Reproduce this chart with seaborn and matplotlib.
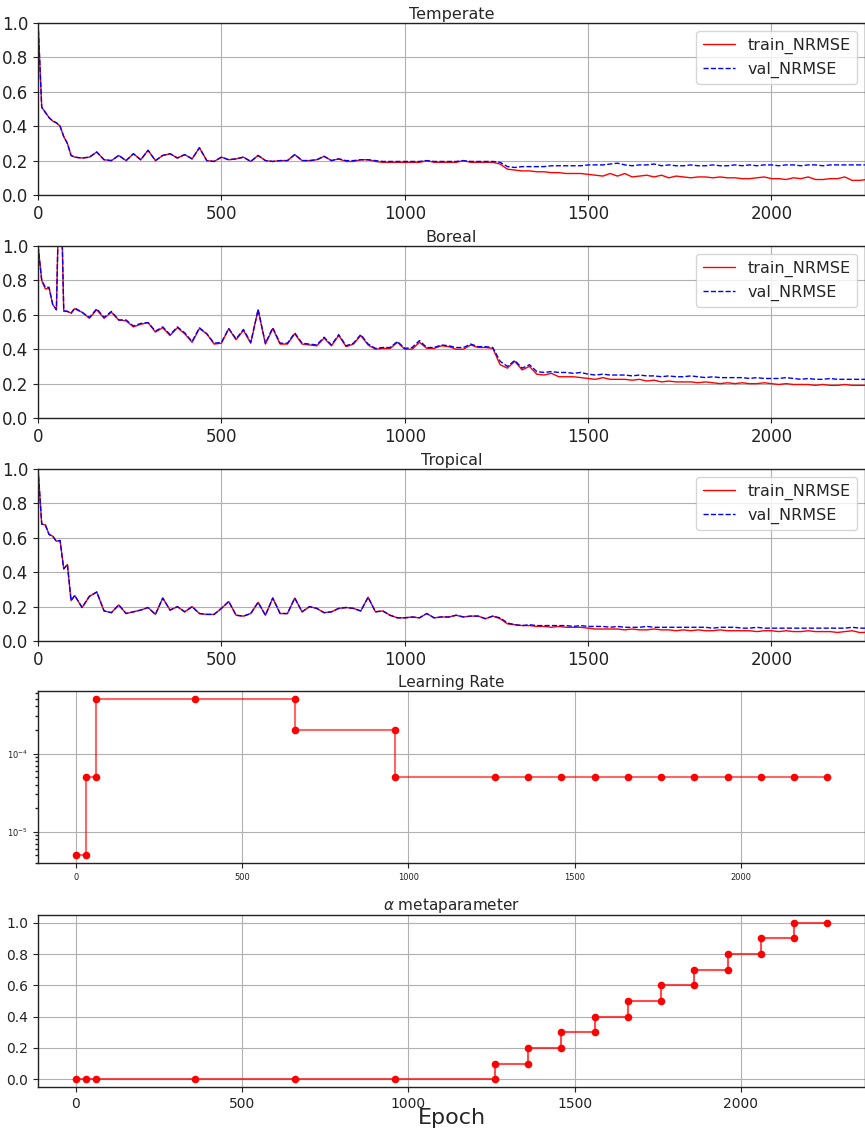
import matplotlib
matplotlib.use("Agg")
import matplotlib.pyplot as plt
import seaborn as sns

# epochs logged: every 10 for the first 100, then every 20
epochs = list(range(0, 100, 10)) + list(range(100, 2261, 20))

tmp_train = [
    1.00, 0.51, 0.48, 0.45, 0.43, 0.42, 0.40, 0.34, 0.30, 0.23,
    0.22, 0.215, 0.22, 0.25, 0.205, 0.20, 0.23, 0.20, 0.24, 0.205,
    0.26, 0.20, 0.23, 0.24, 0.215, 0.235, 0.21, 0.275, 0.20, 0.195,
    0.22, 0.205, 0.21, 0.22, 0.195, 0.23, 0.20, 0.195, 0.20, 0.20,
    0.235, 0.20, 0.20, 0.205, 0.225, 0.20, 0.21, 0.195, 0.195, 0.205,
    0.205, 0.195, 0.19, 0.19, 0.19, 0.19, 0.19, 0.19, 0.20, 0.19,
    0.19, 0.19, 0.19, 0.20, 0.19, 0.19, 0.19, 0.19, 0.18, 0.15,
    0.145, 0.14, 0.14, 0.135, 0.135, 0.13, 0.13, 0.125, 0.125, 0.125,
    0.12, 0.115, 0.11, 0.125, 0.11, 0.125, 0.105, 0.11, 0.115, 0.105,
    0.115, 0.10, 0.11, 0.105, 0.10, 0.105, 0.105, 0.10, 0.105, 0.10,
    0.10, 0.095, 0.095, 0.10, 0.105, 0.095, 0.095, 0.09, 0.10, 0.095,
    0.105, 0.09, 0.09, 0.095, 0.095, 0.105, 0.085, 0.085, 0.09,
]
tmp_val = [
    1.00, 0.51, 0.48, 0.45, 0.43, 0.42, 0.40, 0.34, 0.30, 0.23,
    0.22, 0.215, 0.22, 0.25, 0.205, 0.20, 0.23, 0.20, 0.24, 0.205,
    0.26, 0.20, 0.23, 0.24, 0.215, 0.235, 0.21, 0.275, 0.20, 0.195,
    0.22, 0.205, 0.21, 0.22, 0.195, 0.23, 0.20, 0.195, 0.20, 0.20,
    0.235, 0.20, 0.20, 0.205, 0.225, 0.20, 0.21, 0.20, 0.20, 0.205,
    0.205, 0.20, 0.195, 0.195, 0.195, 0.195, 0.195, 0.195, 0.20, 0.195,
    0.195, 0.195, 0.195, 0.20, 0.195, 0.195, 0.195, 0.195, 0.19, 0.165,
    0.16, 0.165, 0.165, 0.165, 0.165, 0.17, 0.17, 0.17, 0.17, 0.17,
    0.175, 0.175, 0.175, 0.18, 0.185, 0.175, 0.17, 0.175, 0.175, 0.18,
    0.17, 0.175, 0.17, 0.17, 0.175, 0.17, 0.17, 0.175, 0.17, 0.17,
    0.175, 0.17, 0.175, 0.17, 0.175, 0.175, 0.17, 0.175, 0.175, 0.17,
    0.175, 0.175, 0.17, 0.175, 0.175, 0.175, 0.175, 0.175, 0.175,
]

bor_train = [
    1.00, 0.80, 0.75, 0.755, 0.66, 0.63, 1.60, 0.62, 0.62, 0.61,
    0.635, 0.615, 0.58, 0.63, 0.58, 0.615, 0.57, 0.565, 0.53, 0.545,
    0.555, 0.50, 0.525, 0.48, 0.525, 0.49, 0.44, 0.52, 0.49, 0.43,
    0.435, 0.52, 0.455, 0.51, 0.435, 0.63, 0.43, 0.52, 0.43, 0.43,
    0.49, 0.43, 0.425, 0.42, 0.465, 0.42, 0.48, 0.415, 0.43, 0.48,
    0.425, 0.40, 0.405, 0.405, 0.44, 0.40, 0.40, 0.44, 0.405, 0.405,
    0.42, 0.415, 0.40, 0.40, 0.425, 0.41, 0.41, 0.405, 0.31, 0.29,
    0.33, 0.28, 0.30, 0.255, 0.25, 0.26, 0.24, 0.24, 0.24, 0.235,
    0.23, 0.225, 0.235, 0.225, 0.225, 0.225, 0.22, 0.225, 0.215, 0.22,
    0.21, 0.215, 0.21, 0.21, 0.21, 0.205, 0.21, 0.205, 0.20, 0.205,
    0.20, 0.205, 0.20, 0.20, 0.205, 0.20, 0.195, 0.20, 0.195, 0.195,
    0.195, 0.19, 0.195, 0.19, 0.19, 0.195, 0.19, 0.19, 0.19,
]
bor_val = [
    1.00, 0.80, 0.76, 0.76, 0.66, 0.63, 1.60, 0.625, 0.62, 0.61,
    0.64, 0.615, 0.585, 0.635, 0.585, 0.62, 0.57, 0.57, 0.535, 0.55,
    0.555, 0.505, 0.53, 0.485, 0.53, 0.495, 0.445, 0.525, 0.49, 0.435,
    0.44, 0.52, 0.46, 0.515, 0.44, 0.63, 0.435, 0.525, 0.435, 0.435,
    0.495, 0.435, 0.43, 0.425, 0.47, 0.425, 0.485, 0.42, 0.435, 0.485,
    0.43, 0.405, 0.41, 0.41, 0.445, 0.405, 0.41, 0.45, 0.41, 0.41,
    0.425, 0.42, 0.41, 0.41, 0.43, 0.415, 0.415, 0.41, 0.33, 0.30,
    0.335, 0.29, 0.31, 0.27, 0.265, 0.27, 0.265, 0.265, 0.26, 0.265,
    0.255, 0.25, 0.255, 0.25, 0.25, 0.25, 0.245, 0.25, 0.245, 0.245,
    0.24, 0.245, 0.24, 0.24, 0.245, 0.24, 0.235, 0.24, 0.235, 0.235,
    0.235, 0.235, 0.23, 0.235, 0.23, 0.23, 0.23, 0.235, 0.23, 0.225,
    0.23, 0.225, 0.225, 0.23, 0.225, 0.225, 0.225, 0.225, 0.225,
]

tro_train = [
    1.00, 0.68, 0.675, 0.62, 0.61, 0.58, 0.585, 0.42, 0.445, 0.235,
    0.265, 0.195, 0.26, 0.285, 0.175, 0.165, 0.21, 0.16, 0.17, 0.18,
    0.195, 0.155, 0.25, 0.18, 0.20, 0.17, 0.20, 0.16, 0.155, 0.155,
    0.19, 0.23, 0.15, 0.145, 0.16, 0.225, 0.15, 0.25, 0.16, 0.16,
    0.25, 0.17, 0.20, 0.19, 0.165, 0.17, 0.19, 0.195, 0.19, 0.175,
    0.255, 0.17, 0.175, 0.15, 0.135, 0.135, 0.14, 0.135, 0.16, 0.135,
    0.14, 0.14, 0.15, 0.14, 0.145, 0.145, 0.13, 0.145, 0.13, 0.10,
    0.095, 0.09, 0.09, 0.085, 0.085, 0.08, 0.085, 0.08, 0.08, 0.08,
    0.075, 0.07, 0.07, 0.07, 0.07, 0.065, 0.07, 0.065, 0.065, 0.07,
    0.065, 0.065, 0.06, 0.065, 0.06, 0.065, 0.06, 0.06, 0.065, 0.06,
    0.06, 0.06, 0.06, 0.055, 0.06, 0.06, 0.055, 0.06, 0.055, 0.055,
    0.06, 0.055, 0.055, 0.055, 0.05, 0.055, 0.06, 0.05, 0.05,
]
tro_val = [
    1.00, 0.68, 0.675, 0.62, 0.61, 0.58, 0.585, 0.42, 0.445, 0.235,
    0.265, 0.195, 0.26, 0.285, 0.175, 0.165, 0.21, 0.16, 0.17, 0.18,
    0.195, 0.155, 0.25, 0.18, 0.20, 0.17, 0.20, 0.16, 0.155, 0.155,
    0.19, 0.23, 0.15, 0.145, 0.16, 0.225, 0.15, 0.25, 0.16, 0.16,
    0.25, 0.17, 0.20, 0.19, 0.165, 0.17, 0.19, 0.195, 0.19, 0.175,
    0.255, 0.17, 0.175, 0.15, 0.135, 0.135, 0.14, 0.135, 0.16, 0.135,
    0.14, 0.14, 0.15, 0.14, 0.145, 0.145, 0.13, 0.145, 0.135, 0.105,
    0.095, 0.09, 0.095, 0.09, 0.09, 0.09, 0.09, 0.09, 0.085, 0.09,
    0.085, 0.085, 0.085, 0.08, 0.085, 0.08, 0.08, 0.08, 0.085, 0.08,
    0.08, 0.08, 0.08, 0.08, 0.08, 0.08, 0.08, 0.075, 0.08, 0.08,
    0.08, 0.075, 0.075, 0.08, 0.075, 0.075, 0.075, 0.075, 0.075, 0.075,
    0.075, 0.075, 0.075, 0.075, 0.075, 0.075, 0.08, 0.075, 0.075,
]

# learning rate schedule (one dot per logged change)
lr_epoch = [0, 30, 30, 60, 60, 360, 660, 660, 960, 960,
            1260, 1360, 1460, 1560, 1660, 1760, 1860, 1960, 2060, 2160, 2260]
lr_value = [5e-6, 5e-6, 5e-5, 5e-5, 5e-4, 5e-4, 5e-4, 2e-4, 2e-4, 5e-5,
            5e-5, 5e-5, 5e-5, 5e-5, 5e-5, 5e-5, 5e-5, 5e-5, 5e-5, 5e-5, 5e-5]

alpha_epoch = [0, 30, 60, 360, 660, 960, 1260, 1260, 1360, 1360, 1460, 1460,
               1560, 1560, 1660, 1660, 1760, 1760, 1860, 1860, 1960, 1960,
               2060, 2060, 2160, 2160, 2260]
alpha_value = [0.0, 0.0, 0.0, 0.0, 0.0, 0.0, 0.0, 0.1, 0.1, 0.2, 0.2, 0.3,
               0.3, 0.4, 0.4, 0.5, 0.5, 0.6, 0.6, 0.7, 0.7, 0.8,
               0.8, 0.9, 0.9, 1.0, 1.0]

panels = [
    ("Temperate", tmp_train, tmp_val),
    ("Boreal", bor_train, bor_val),
    ("Tropical", tro_train, tro_val),
]

sns.set_theme(style="ticks", rc={
    "axes.grid": True,
    "grid.color": "#b0b0b0",
    "grid.linewidth": 0.8,
    "axes.edgecolor": "#222222",
    "axes.linewidth": 1.0,
    "xtick.color": "#222222",
    "ytick.color": "#222222",
    "xtick.major.size": 3.5,
    "ytick.major.size": 3.5,
    "xtick.major.width": 0.8,
    "ytick.major.width": 0.8,
    "xtick.minor.size": 2,
    "ytick.minor.size": 2,
    "xtick.major.pad": 3.5,
    "ytick.major.pad": 3.5,
})
plt.rcParams["font.family"] = ["DejaVu Sans"]

fig = plt.figure(figsize=(8.65, 11.35), dpi=100)
left, width, height = 0.044, 0.956, 0.1515
bottoms = [0.8282, 0.6317, 0.4352, 0.2396, 0.0423]

for i, (name, train, val) in enumerate(panels):
    ax = fig.add_axes([left, bottoms[i], width, height])
    sns.lineplot(x=epochs, y=train, ax=ax, color="red", lw=1,
                 estimator=None, sort=False, label="train_NRMSE")
    sns.lineplot(x=epochs, y=val, ax=ax, color="blue", lw=1, linestyle="--",
                 estimator=None, sort=False, label="val_NRMSE")
    ax.set_xlim(0, 2255)
    ax.set_ylim(0, 1)
    ax.set_xticks([0, 500, 1000, 1500, 2000])
    ax.set_yticks([0, 0.2, 0.4, 0.6, 0.8, 1.0])
    ax.tick_params(labelsize=12)
    ax.set_title(name, fontsize=11.5, pad=3)
    ax.legend(loc="upper right", fontsize=11.5, frameon=True, framealpha=0.8,
              edgecolor="#cccccc", fancybox=True)

# learning rate
ax = fig.add_axes([left, bottoms[3], width, height])
sns.lineplot(x=lr_epoch, y=lr_value, ax=ax, color="red", lw=1.5, alpha=0.6,
             estimator=None, sort=False)
sns.scatterplot(x=lr_epoch, y=lr_value, ax=ax, color="red", s=30,
                edgecolor="red", linewidth=0, zorder=3)
ax.set_yscale("log")
ax.margins(x=0.05, y=0.05)
ax.tick_params(labelsize=6)
ax.grid(True, which="major")
ax.set_title("Learning Rate", fontsize=11, pad=3)

# alpha metaparameter
ax = fig.add_axes([left, bottoms[4], width, height])
sns.lineplot(x=alpha_epoch, y=alpha_value, ax=ax, color="red", lw=1.5,
             alpha=0.7, estimator=None, sort=False)
sns.scatterplot(x=alpha_epoch, y=alpha_value, ax=ax, color="red", s=30,
                edgecolor="red", linewidth=0, zorder=3)
ax.set_xticks([0, 500, 1000, 1500, 2000])
ax.set_yticks([0, 0.2, 0.4, 0.6, 0.8, 1.0])
ax.tick_params(labelsize=10)
ax.set_title(r"$\alpha$ metaparameter", fontsize=11, pad=3)
ax.set_xlabel("Epoch", fontsize=16, va="top")
ax.xaxis.set_label_coords(0.5, -0.12)

fig.savefig("out.png", dpi=100)
